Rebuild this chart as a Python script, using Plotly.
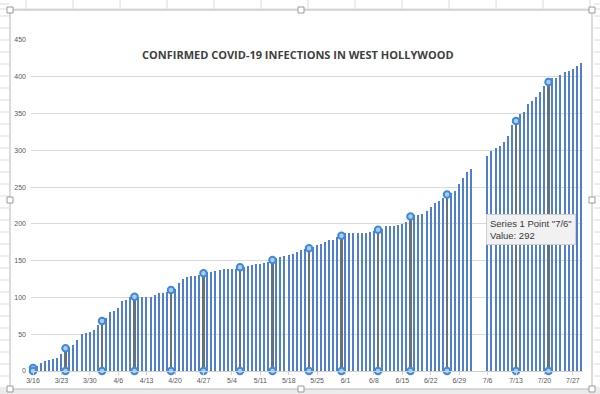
import pandas as pd
import plotly.graph_objects as go

# ---- data ----
dates_part1 = pd.date_range("2020-03-16", "2020-07-02", freq="D")
dates_part2 = pd.date_range("2020-07-06", "2020-07-29", freq="D")
values_part1 = [4, 7, 11, 13, 15, 17, 18, 23, 31, 33, 35, 42, 50, 52, 53, 56, 63, 68, 72, 80,
                82, 86, 95, 97, 100, 101, 101, 101, 101, 101, 103, 106, 106, 108, 110, 112, 119, 125,
                128, 129, 129, 130, 133, 134, 135, 136, 137, 139, 139, 139, 139, 141, 142, 143, 144,
                145, 146, 147, 148, 151, 153, 155, 156, 158, 159, 162, 164, 166, 167, 169, 171, 173,
                176, 178, 178, 182, 184, 187, 187, 187, 187, 187, 188, 189, 190, 192, 193, 197, 197,
                197, 198, 200, 203, 210, 212, 212, 214, 217, 223, 228, 231, 235, 240, 242, 245, 254,
                263, 270, 275]
values_part2 = [292, 299, 303, 306, 312, 320, 334, 340, 350, 352, 363, 367, 372, 379, 388, 393,
                398, 399, 402, 406, 408, 411, 414, 419]
dates = list(dates_part1) + list(dates_part2)
values = values_part1 + values_part2
series = pd.Series(values, index=pd.DatetimeIndex(dates))

highlight_dates = ["2020-03-16", "2020-03-24", "2020-04-02", "2020-04-10", "2020-04-19",
                   "2020-04-27", "2020-05-06", "2020-05-14", "2020-05-23", "2020-05-31",
                   "2020-06-09", "2020-06-17", "2020-06-26", "2020-07-13", "2020-07-21"]
highlight_values = [float(series[pd.Timestamp(d)]) for d in highlight_dates]

tick_dates = ["2020-03-16", "2020-03-23", "2020-03-30", "2020-04-06", "2020-04-13", "2020-04-20",
              "2020-04-27", "2020-05-04", "2020-05-11", "2020-05-18", "2020-05-25", "2020-06-01",
              "2020-06-08", "2020-06-15", "2020-06-22", "2020-06-29", "2020-07-06", "2020-07-13",
              "2020-07-20", "2020-07-27"]
tick_labels = ["3/16", "3/23", "3/30", "4/6", "4/13", "4/20", "4/27", "5/4", "5/11", "5/18",
               "5/25", "6/1", "6/8", "6/15", "6/22", "6/29", "7/6", "7/13", "7/20", "7/27"]
y_ticks = [0, 50, 100, 150, 200, 250, 300, 350, 400, 450]

title_text = "CONFIRMED COVID-19 INFECTIONS IN WEST HOLLYWOOD"
tooltip_text = 'Series 1 Point "7/6"<br>Value: 292'
tooltip_date = "2020-07-06"

DAY_MS = 86400000

fig = go.Figure()
fig.add_trace(go.Bar(x=dates, y=values, width=0.34 * DAY_MS,
                     marker=dict(color="#5080cc", line=dict(width=0)), hoverinfo="skip"))
fig.add_trace(go.Bar(x=highlight_dates, y=highlight_values, width=0.55 * DAY_MS,
                     marker=dict(color="#66717e", line=dict(width=0)), hoverinfo="skip"))
fig.add_trace(go.Scatter(x=highlight_dates + highlight_dates,
                         y=highlight_values + [0] * len(highlight_values),
                         mode="markers", cliponaxis=False,
                         marker=dict(size=6.5, color="#a9cdf0",
                                     line=dict(width=2, color="#3f8ad8")),
                         hoverinfo="skip"))

# ---- decorations: spreadsheet grid, chart frame ----
W, H = 600, 394
L, R, T, B = 31, 17, 40, 23
pw, ph = W - L - R, H - T - B


def px(x):
    return (x - L) / pw


def py(y):
    return (H - B - y) / ph


shapes = []
grid = "#dcdcdc"
for cx in range(26, 600, 47):
    shapes.append(dict(type="line", xref="paper", yref="paper", x0=px(cx), x1=px(cx),
                       y0=py(0), y1=py(9), line=dict(color=grid, width=1), layer="below"))
for ry in range(4, 394, 12):
    shapes.append(dict(type="line", xref="paper", yref="paper", x0=px(0), x1=px(9),
                       y0=py(ry), y1=py(ry), line=dict(color=grid, width=1), layer="below"))
    shapes.append(dict(type="line", xref="paper", yref="paper", x0=px(594), x1=px(600),
                       y0=py(ry), y1=py(ry), line=dict(color=grid, width=1), layer="below"))
shapes.append(dict(type="line", xref="paper", yref="paper", x0=px(0), x1=px(600),
                   y0=py(9), y1=py(9), line=dict(color=grid, width=1), layer="below"))
shapes.append(dict(type="rect", xref="paper", yref="paper", x0=px(0), x1=px(600),
                   y0=py(389), y1=py(394), fillcolor="#ececec", line=dict(width=0), layer="below"))
shapes.append(dict(type="rect", xref="paper", yref="paper", x0=px(10), x1=px(592),
                   y0=py(10), y1=py(389), fillcolor="white",
                   line=dict(color="#b8b8b8", width=1), layer="below"))
for hx, hy in [(10, 10), (301, 10), (592, 10), (10, 200), (592, 200),
               (10, 389), (301, 389), (592, 389)]:
    shapes.append(dict(type="rect", xref="paper", yref="paper", x0=px(hx - 3), x1=px(hx + 3),
                       y0=py(hy - 3), y1=py(hy + 3), fillcolor="white",
                       line=dict(color="#9a9a9a", width=1)))

fig.update_layout(
    width=W, height=H,
    margin=dict(l=L, r=R, t=T, b=B),
    paper_bgcolor="white", plot_bgcolor="rgba(0,0,0,0)",
    barmode="overlay", bargap=0, showlegend=False,
    font=dict(family="Liberation Sans, Arial, sans-serif", color="#595959", size=7),
    shapes=shapes,
    annotations=[
        dict(text="<b>" + title_text + "</b>", xref="paper", yref="paper",
             x=px(298), y=py(55), xanchor="center", yanchor="middle", showarrow=False,
             font=dict(family="Open Sans, sans-serif", size=11, color="#404040")),
        dict(text=tooltip_text, xref="x", yref="y", x=tooltip_date, y=213,
             xanchor="left", yanchor="top", showarrow=False, align="left",
             bgcolor="#f1f1f1", bordercolor="#d0d0d0", borderwidth=1, borderpad=3,
             xshift=-2, font=dict(family="Liberation Sans, Arial, sans-serif", size=9.5,
                                  color="#3a3a3a")),
    ],
    xaxis=dict(type="date", range=["2020-03-15 12:00", "2020-07-29 12:00"],
               tickvals=tick_dates, ticktext=tick_labels, showgrid=False,
               ticks="outside", ticklen=3, tickcolor="#d0d0d0",
               showline=True, linecolor="#d0d0d0", linewidth=1, automargin=False,
               tickfont=dict(size=7, color="#595959")),
    yaxis=dict(range=[0, 450], tickvals=y_ticks, showgrid=True, gridcolor="#d9d9d9",
               gridwidth=1, zeroline=False, showline=False, ticks="", automargin=False,
               ticklabelstandoff=4, tickfont=dict(size=7, color="#595959")),
)

fig.write_html("out.html", config={"displayModeBar": False},
               post_script="document.body.style.margin='0';document.body.style.overflow='hidden';")
